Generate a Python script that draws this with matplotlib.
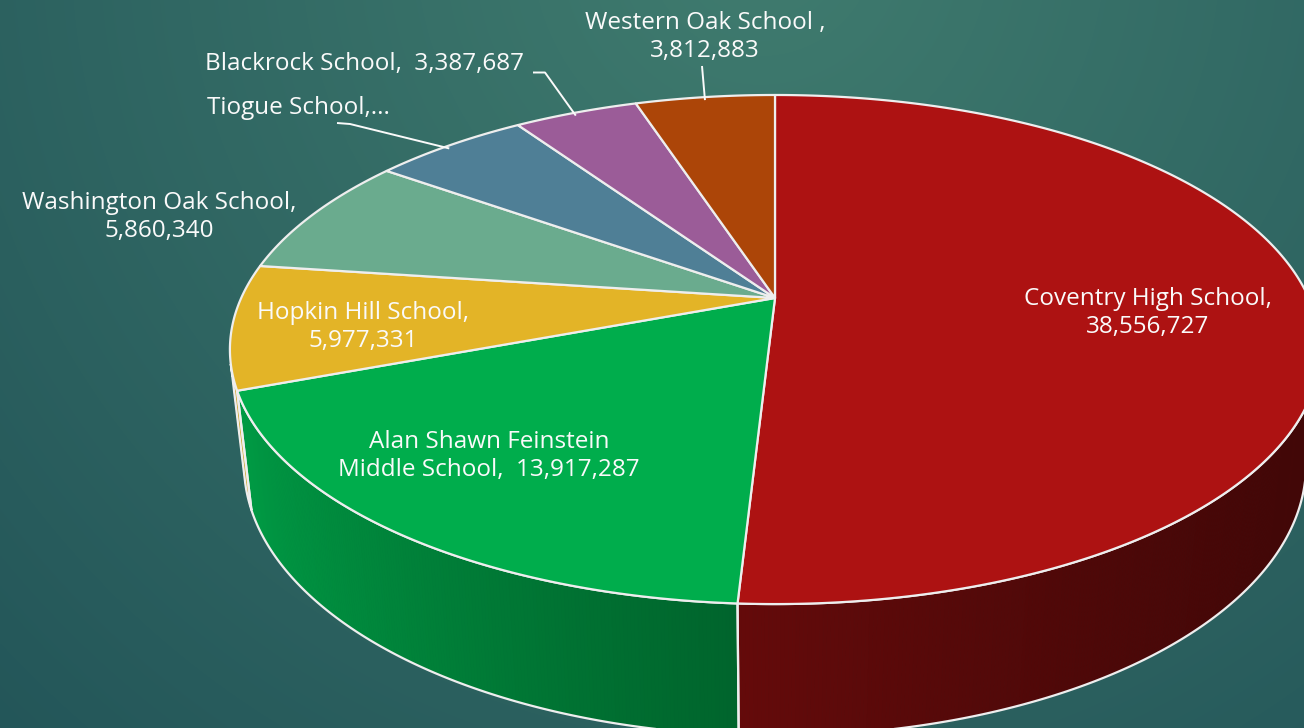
import numpy as np
import matplotlib
matplotlib.use("Agg")
import matplotlib.pyplot as plt
from matplotlib.patches import Polygon

# ---------------- data ----------------
schools = ["Coventry High School", "Alan Shawn Feinstein Middle School",
           "Hopkin Hill School", "Washington Oak School", "Tiogue School",
           "Blackrock School", "Western Oak School"]
values = [38556727, 13917287, 5977331, 5860340, 4250000, 3387687, 3812883]
label_texts = ["Coventry High School,\n38,556,727",
               "Alan Shawn Feinstein\nMiddle School,  13,917,287",
               "Hopkin Hill School,\n5,977,331",
               "Washington Oak School,\n5,860,340",
               "Tiogue School,...",
               "Blackrock School,  3,387,687",
               "Western Oak School ,\n3,812,883"]
colors = ["#AD1212", "#00AD4C", "#E3B427", "#6AAB8E", "#4F7F96", "#9B5C98", "#AC4508"]

# ---------------- layout ----------------
W, H = 1304, 728
fig = plt.figure(figsize=(W / 100, H / 100), dpi=100)
ax = fig.add_axes([0, 0, 1, 1])
ax.set_xlim(0, W)
ax.set_ylim(H, 0)
ax.axis("off")

# background gradient
yy, xx = np.mgrid[0:H:2, 0:W:2]
d = np.clip(np.hypot(xx - 760, yy + 60) / 1150.0, 0, 1)[..., None]
inner = np.array([64, 124, 111]) / 255.0
outer = np.array([34, 84, 88]) / 255.0
bg = inner * (1 - d) + outer * d
ax.imshow(bg, extent=[0, W, H, 0], zorder=0, aspect="auto", interpolation="bilinear")

# perspective 3D pie geometry
cx, cy = 775.0, 298.0
Dn = 4.94
elev = np.arcsin(0.4573)
ce, se = np.cos(elev), np.sin(elev)
L = Dn * ce
foc = 533.8 * L
thick = 0.245


def proj(X, Y, Z):
    depth = L + Y * ce - Z * se
    return cx + foc * X / depth, cy - foc * (Y * se + Z * ce) / depth


def shade(X):
    return 0.566 - 0.2753 * X + 0.0802 * X ** 2


vals = np.array(values, dtype=float)
spans = vals / vals.sum() * 360.0
starts = 90.0 - np.concatenate([[0], np.cumsum(spans)[:-1]])
ends = starts - spans

edge_c = "#EEEEEE"
edge_w = 1.6

# visible side range (silhouette of the cylinder in perspective)
asil = np.degrees(np.arcsin(1.0 / (L * ce)))
th1, th2 = 180.0 + asil, 360.0 - asil

for i in range(len(vals)):
    base = np.array(matplotlib.colors.to_rgb(colors[i]))
    for sh in (0.0, -360.0, 360.0):
        a = max(ends[i], th1 + sh)
        b = min(starts[i], th2 + sh)
        if b <= a:
            continue
        n = max(3, int((b - a) * 3))
        t = np.radians(np.linspace(a, b, n))
        tx, ty = proj(np.cos(t), np.sin(t), 0.0)
        bx, by = proj(np.cos(t), np.sin(t), -thick)
        for k in range(n - 1):
            m = 0.5 * (t[k] + t[k + 1])
            c = np.clip(base * shade(np.cos(m)), 0, 1)
            q = [(tx[k], ty[k]), (tx[k + 1], ty[k + 1]), (bx[k + 1], by[k + 1]), (bx[k], by[k])]
            ax.add_patch(Polygon(q, closed=True, facecolor=c, edgecolor=c, lw=0.6, zorder=2))
        outline = list(zip(tx, ty)) + list(zip(bx[::-1], by[::-1]))
        ax.add_patch(Polygon(outline, closed=True, fill=False, edgecolor=edge_c, lw=edge_w, zorder=2.5))

# top faces
for i in range(len(vals)):
    n = max(3, int(spans[i] * 3))
    t = np.radians(np.linspace(ends[i], starts[i], n))
    px, py = proj(np.cos(t), np.sin(t), 0.0)
    pts = [(cx, cy)] + list(zip(px, py))
    ax.add_patch(Polygon(pts, closed=True, facecolor=colors[i], edgecolor=edge_c,
                         lw=edge_w, joinstyle="round", zorder=3))

# labels
fam = ["Open Sans", "DejaVu Sans"]
fs = 17.5
tc = "#FAFAFA"
label_pos = {0: (1148, 313), 1: (489, 456), 2: (363, 327), 3: (159, 217),
             4: (207, 108), 5: (205, 64), 6: (705, 37)}
label_ha = {4: "left", 5: "left"}
for i, txt in enumerate(label_texts):
    x, y = label_pos[i]
    ax.text(x, y, txt, ha=label_ha.get(i, "center"), va="center", color=tc,
            fontsize=fs, family=fam, fontweight="normal", linespacing=1.25, zorder=5)

# leader lines to slice mid-points on the rim
mids = np.radians((starts + ends) / 2.0)
leaders = {6: [(702, 66)], 5: [(533, 72.5), (545, 72.5)], 4: [(337, 123), (350, 124)]}
for i, pts in leaders.items():
    ex, ey = proj(np.cos(mids[i]), np.sin(mids[i]), 0.0)
    xs = [p[0] for p in pts] + [ex]
    ys = [p[1] for p in pts] + [ey + 3]
    ax.plot(xs, ys, color=tc, lw=1.4, zorder=4, solid_capstyle="butt")

fig.savefig("out.png", dpi=100)
